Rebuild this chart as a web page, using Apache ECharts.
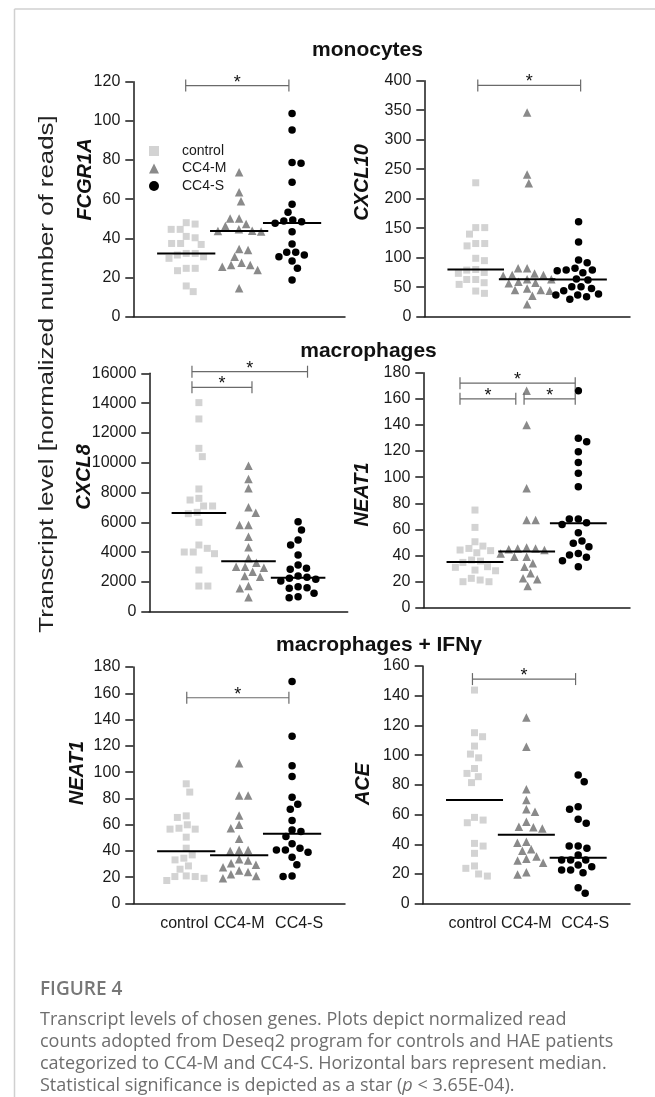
<!DOCTYPE html>
<html>
<head>
<meta charset="utf-8">
<script src="https://cdn.jsdelivr.net/npm/echarts@6/dist/echarts.min.js"></script>
<style>
html,body{margin:0;padding:0;background:#fff;}
#c{width:655px;height:1097px;}
</style>
</head>
<body>
<div id="c"></div>
<script>
// ---------------- data ----------------
const categories = ['control', 'CC4-M', 'CC4-S'];
const geneNames = ['FCGR1A', 'CXCL10', 'CXCL8', 'NEAT1', 'NEAT1', 'ACE'];
const panelTitles = ['monocytes', 'macrophages', 'macrophages + IFNγ'];

const fcgr1aControl = [48, 47.3, 44.6, 44.6, 41, 40.3, 37.4, 37.4, 36.9, 32.3, 32.3, 31.5, 30.6, 29.8, 24.7, 24.7, 23.5, 15.7, 12.8];
const fcgr1aCC4M = [73.7, 63.5, 59, 50.2, 50.2, 47.3, 46.3, 44.6, 43.9, 43.7, 43.5, 34.6, 34, 30.6, 27.6, 26.4, 26.4, 25.5, 23.8, 14.5];
const fcgr1aCC4S = [103.8, 95.3, 78.8, 78.3, 68.6, 57.4, 53.3, 49.4, 48.9, 48.5, 47.7, 43.4, 37.1, 32.9, 32.9, 31.5, 30.6, 28.4, 24.7, 18.7];
const fcgr1aMedian = [32.3, 43.7, 47.8];
const fcgr1aAxis = [0, 120, 20];
const fcgr1aSig = [[0.99, 2.94, 118]];

const cxcl10Control = [227, 151, 151, 140, 124, 124, 120, 99, 95, 80, 79, 75, 73.5, 63, 63, 57.6, 54.8, 43.5, 39.6];
const cxcl10CC4M = [346, 241, 226, 82, 82, 73.4, 70.6, 70.6, 69.5, 63.3, 63.3, 59.3, 57.6, 56.5, 48, 45.2, 45.2, 44, 35.6, 20.9];
const cxcl10CC4S = [161, 126.6, 96, 91.5, 82, 79, 79, 78, 74.6, 64, 62, 50.9, 50.9, 48, 44.1, 38.4, 36.7, 36.7, 33.9, 29.4];
const cxcl10Median = [80, 63.5, 63];
const cxcl10Axis = [0, 400, 50];
const cxcl10Sig = [[1.04, 3.04, 392]];

const cxcl8Control = [14032, 12936, 10966, 10407, 8236, 7609, 7497, 7094, 7094, 6669, 6580, 5998, 4476, 4252, 4006, 4006, 3894, 2797, 1723, 1723];
const cxcl8CC4M = [9802, 8907, 8281, 7005, 6647, 5819, 5819, 5036, 4319, 3581, 3290, 3021, 3021, 2954, 2686, 2395, 2350, 1723, 1567, 962];
const cxcl8CC4S = [6043, 5483, 4812, 4476, 3805, 3133, 2909, 2842, 2395, 2305, 2238, 2171, 2059, 1678, 1611, 1567, 1231, 1007, 940];
const cxcl8Median = [6624, 3380, 2284];
const cxcl8Axis = [0, 16000, 2000];
const cxcl8Sig = [[0.86, 3.19, 16107], [0.86, 2.07, 15060]];

const neat1MacControl = [74.8, 61.5, 50.5, 47.2, 45.4, 44.2, 43.7, 42.1, 36.5, 35.7, 34.7, 31.4, 30.9, 28.8, 28.3, 22.5, 21.2, 19.9, 19.9];
const neat1MacCC4M = [166.2, 139.9, 91.4, 67.1, 67.1, 46.2, 45.4, 45.4, 44.7, 44.2, 41.6, 39, 39, 34, 31.4, 26.3, 22.5, 21.7, 16.6];
const neat1MacCC4S = [166.2, 129.7, 127.1, 119.5, 111.3, 102.9, 92.7, 67.9, 67.9, 65.1, 63.8, 57.4, 51.1, 49.3, 46.7, 41.6, 40.3, 38.6, 36, 31.4];
const neat1MacMedian = [35, 43, 64.6];
const neat1MacAxis = [0, 180, 20];
const neat1MacSig = [[0.71, 2.94, 172], [0.71, 1.79, 160], [1.95, 2.94, 160]];

const neat1IfnControl = [91.1, 84.8, 66.7, 65.5, 59.9, 57.3, 56.6, 56.6, 50.5, 42.1, 37, 34.5, 33.2, 28.6, 26.1, 21, 20.5, 20.5, 19.2, 17.5];
const neat1IfnCC4M = [106.8, 82.2, 82.2, 67, 59.9, 57.3, 49.2, 40.8, 40.8, 40, 33.7, 32.7, 30.7, 29.4, 27.6, 25.1, 24, 22.3, 21, 19.2];
const neat1IfnCC4S = [169, 127.2, 104.8, 96.7, 80.9, 75.6, 71.8, 63.2, 56, 54.8, 51, 45.4, 42.1, 40.8, 40.8, 39.1, 35.2, 29.4, 21, 20.5];
const neat1IfnMedian = [39.8, 36.8, 53];
const neat1IfnAxis = [0, 180, 20];
const neat1IfnSig = [[1.01, 2.94, 156.6]];

const aceControl = [143.8, 115.1, 112.4, 106.1, 100.7, 98.2, 91, 87.7, 85.5, 81.5, 58.1, 56.3, 54.5, 40.6, 38.8, 33.9, 25.4, 23.8, 20, 18.6];
const aceCC4M = [125.4, 105.6, 77, 69.8, 63.5, 61.9, 55.2, 51.8, 51.4, 50.7, 41.7, 41.1, 36.6, 35.7, 31.7, 30.3, 29, 27.6, 21.1, 19.7];
const aceCC4S = [86.6, 82.1, 65.3, 63.5, 56.8, 54.1, 38.8, 38.8, 37.3, 32.7, 29.4, 29.4, 29.4, 26, 24.9, 22.7, 22.7, 20.9, 10.8, 7];
const aceMedian = [69.8, 46.4, 31];
const aceAxis = [0, 160, 20];
const aceSig = [[0.96, 2.95, 151.2]];

const captionTitle = 'FIGURE 4';
const captionLines = [
  'Transcript levels of chosen genes. Plots depict normalized read',
  'counts adopted from Deseq2 program for controls and HAE patients',
  'categorized to CC4-M and CC4-S. Horizontal bars represent median.',
  'Statistical significance is depicted as a star ({i|p} < 3.65E-04).'
];
const yAxisTitle = 'Transcript level [normalized number of reads]';

// ---------------- layout ----------------
const FONT = '"Liberation Sans", Arial, sans-serif';
const panels = [
  {data: [fcgr1aControl, fcgr1aCC4M, fcgr1aCC4S], median: fcgr1aMedian, axis: fcgr1aAxis, sig: fcgr1aSig,
   grid: {left: 133.3, top: 81.7, width: 211.7, height: 235}, gene: [85, 179.5], xLabels: false},
  {data: [cxcl10Control, cxcl10CC4M, cxcl10CC4S], median: cxcl10Median, axis: cxcl10Axis, sig: cxcl10Sig,
   grid: {left: 424.3, top: 80.7, width: 205.7, height: 236}, gene: [362.5, 182.5], xLabels: false},
  {data: [cxcl8Control, cxcl8CC4M, cxcl8CC4S], median: cxcl8Median, axis: cxcl8Axis, sig: cxcl8Sig,
   grid: {left: 149.3, top: 373.3, width: 198.4, height: 238.4}, gene: [84, 477], xLabels: false},
  {data: [neat1MacControl, neat1MacCC4M, neat1MacCC4S], median: neat1MacMedian, axis: neat1MacAxis, sig: neat1MacSig,
   grid: {left: 423.3, top: 372.7, width: 206.7, height: 235}, gene: [362.5, 494.5], xLabels: false},
  {data: [neat1IfnControl, neat1IfnCC4M, neat1IfnCC4S], median: neat1IfnMedian, axis: neat1IfnAxis, sig: neat1IfnSig,
   grid: {left: 133.3, top: 667, width: 211.7, height: 236.5}, gene: [77, 773], xLabels: true},
  {data: [aceControl, aceCC4M, aceCC4S], median: aceMedian, axis: aceAxis, sig: aceSig,
   grid: {left: 422.7, top: 666, width: 207.3, height: 237.7}, gene: [363.5, 784], xLabels: true}
];
const titlePos = [[367.5, 50.5], [368.5, 351.5], [379, 645]];
const groupStyle = [
  {symbol: 'rect', size: 7, color: '#d3d3d3'},
  {symbol: 'triangle', size: 8.5, color: '#8a8a8a'},
  {symbol: 'circle', size: 7.5, color: '#000000'}
];
// label shifting (rich padding) so the category names sit as in the figure
const labelRich = {
  a: {padding: [0, 4, 0, 0]},
  b: {padding: [0, 0, 0, 0]},
  c: {padding: [0, 0, 0, 14]}
};
const labelKeys = ['a', 'b', 'c'];

// deterministic beeswarm layout (pixel space) -> x offsets in axis units
function swarm(values, center, pxPerY, pxPerX, dia) {
  const order = values.map((v, i) => i).sort((a, b) => values[b] - values[a]);
  const placed = [];
  const out = [];
  let balance = 0;
  order.forEach(i => {
    const y = values[i] * pxPerY;
    const blocked = [];
    placed.forEach(q => {
      const dy = Math.abs(q[1] - y);
      if (dy < dia) {
        const w = Math.sqrt(dia * dia - dy * dy);
        blocked.push([q[0] - w, q[0] + w]);
      }
    });
    const cands = [0];
    blocked.forEach(b => cands.push(b[0], b[1]));
    const free = cands.filter(c => blocked.every(b => c <= b[0] + 1e-6 || c >= b[1] - 1e-6));
    free.sort((a, b) => {
      const d = Math.abs(a) - Math.abs(b);
      if (Math.abs(d) > 0.05) return d;
      return balance > 0 ? a - b : b - a;
    });
    const x = free[0];
    balance += Math.sign(x);
    placed.push([x, y]);
    out[i] = [center + x / pxPerX, values[i]];
  });
  return out;
}

const grids = [], xAxes = [], yAxes = [], series = [];
const axisLineStyle = {color: '#1a1a1a', width: 1.5};

panels.forEach((p, i) => {
  grids.push(Object.assign({containLabel: false, outerBoundsMode: 'none'}, p.grid));
  xAxes.push({
    gridIndex: i, type: 'value', min: 0, max: 4, interval: 1,
    axisLine: {show: true, onZero: false, lineStyle: axisLineStyle},
    axisTick: {show: false}, splitLine: {show: false},
    axisLabel: {
      show: p.xLabels, margin: 12, fontSize: 16, color: '#1a1a1a', fontFamily: FONT,
      rich: labelRich,
      formatter: v => categories[v - 1] ? '{' + labelKeys[v - 1] + '|' + categories[v - 1] + '}' : ''
    }
  });
  yAxes.push({
    gridIndex: i, type: 'value', min: p.axis[0], max: p.axis[1], interval: p.axis[2],
    axisLine: {show: true, onZero: false, lineStyle: axisLineStyle},
    axisTick: {show: true, inside: false, length: 8, lineStyle: axisLineStyle},
    splitLine: {show: false},
    axisLabel: {margin: 13, fontSize: 16, color: '#1a1a1a', fontFamily: FONT, formatter: v => String(v)}
  });
  const pxY = p.grid.height / (p.axis[1] - p.axis[0]);
  const pxX = p.grid.width / 4;
  p.data.forEach((vals, g) => {
    series.push({
      type: 'scatter', name: categories[g], xAxisIndex: i, yAxisIndex: i,
      data: swarm(vals, g + 1, pxY, pxX, 9),
      symbol: groupStyle[g].symbol, symbolSize: groupStyle[g].size,
      itemStyle: {color: groupStyle[g].color, opacity: 1},
      emphasis: {disabled: true}, silent: true, z: 2
    });
  });
  series.push({
    type: 'custom', xAxisIndex: i, yAxisIndex: i, silent: true, z: 4,
    data: p.median.map((m, g) => [g + 1, m]),
    renderItem: (params, api) => {
      const c = api.value(0), m = api.value(1);
      const a = api.coord([c - 0.55, m]), b = api.coord([c + 0.55, m]);
      return {type: 'line', shape: {x1: a[0], y1: a[1], x2: b[0], y2: b[1]},
              style: {stroke: '#000', lineWidth: 2}};
    }
  });
  series.push({
    type: 'custom', xAxisIndex: i, yAxisIndex: i, silent: true, z: 4, clip: false,
    data: p.sig,
    renderItem: (params, api) => {
      const a = api.coord([api.value(0), api.value(2)]);
      const b = api.coord([api.value(1), api.value(2)]);
      const st = {stroke: '#6a6a6a', lineWidth: 1.2};
      return {type: 'group', children: [
        {type: 'line', shape: {x1: a[0], y1: a[1], x2: b[0], y2: b[1]}, style: st},
        {type: 'line', shape: {x1: a[0], y1: a[1] - 6, x2: a[0], y2: a[1] + 6}, style: st},
        {type: 'line', shape: {x1: b[0], y1: b[1] - 6, x2: b[0], y2: b[1] + 6}, style: st},
        {type: 'text', x: (a[0] + b[0]) / 2, y: a[1] - 3,
         style: {text: '*', fontSize: 18, fontFamily: FONT, fill: '#111',
                 align: 'center', verticalAlign: 'middle'}}
      ]};
    }
  });
});

// ---------------- graphic text ----------------
const graphics = [];
graphics.push({type: 'line', shape: {x1: 14.5, y1: 9, x2: 655, y2: 9}, style: {stroke: '#d0d0d0', lineWidth: 1.5}, silent: true});
graphics.push({type: 'line', shape: {x1: 14.5, y1: 9, x2: 14.5, y2: 1097}, style: {stroke: '#d0d0d0', lineWidth: 1.5}, silent: true});
function txt(o) {
  const s = o.style;
  s.textAlign = s.align; s.textVerticalAlign = s.verticalAlign;
  o.silent = true;
  return o;
}
panelTitles.forEach((t, k) => {
  graphics.push(txt({type: 'text', x: titlePos[k][0], y: titlePos[k][1],
    style: {text: t, font: 'bold 21px ' + FONT, fill: '#111', align: 'center', verticalAlign: 'middle'}}));
});
panels.forEach((p, i) => {
  graphics.push(txt({type: 'text', x: p.gene[0], y: p.gene[1], rotation: Math.PI / 2,
    style: {text: geneNames[i], font: 'italic bold 20px ' + FONT, fill: '#111', align: 'center', verticalAlign: 'middle'}}));
});
graphics.push(txt({type: 'text', x: 47, y: 374, rotation: Math.PI / 2, scaleX: 1.23,
  style: {text: yAxisTitle, font: '21px ' + FONT, fill: '#222', align: 'center', verticalAlign: 'middle'}}));

const CAP = '"Open Sans", "Noto Sans", sans-serif';
graphics.push(txt({type: 'text', x: 40, y: 990,
  style: {text: captionTitle, fontSize: 19, fontWeight: 600, fontFamily: CAP, fill: '#777', align: 'left', verticalAlign: 'middle'}}));
const capY = [1020, 1042, 1064, 1086];
captionLines.forEach((line, k) => {
  graphics.push(txt({type: 'text', x: 40, y: capY[k],
    style: {text: line, fontSize: 18, fontFamily: CAP, fill: '#6e6e6e', align: 'left', verticalAlign: 'middle',
            rich: {i: {fontStyle: 'italic', fontSize: 18, fontFamily: CAP, fill: '#6e6e6e'}}}}));
});

const chart = echarts.init(document.getElementById('c'), null, {renderer: 'canvas'});
chart.setOption({
  animation: false,
  backgroundColor: '#fff',
  grid: grids, xAxis: xAxes, yAxis: yAxes, series: series,
  legend: {
    show: true, orient: 'vertical', left: 144, top: 139, itemWidth: 10, itemHeight: 10, itemGap: 3.5,
    selectedMode: false, data: categories,
    textStyle: {fontSize: 14, color: '#1a1a1a', fontFamily: FONT, lineHeight: 14, padding: [0, 0, 0, 18]}
  },
  graphic: graphics
});
</script>
</body>
</html>
